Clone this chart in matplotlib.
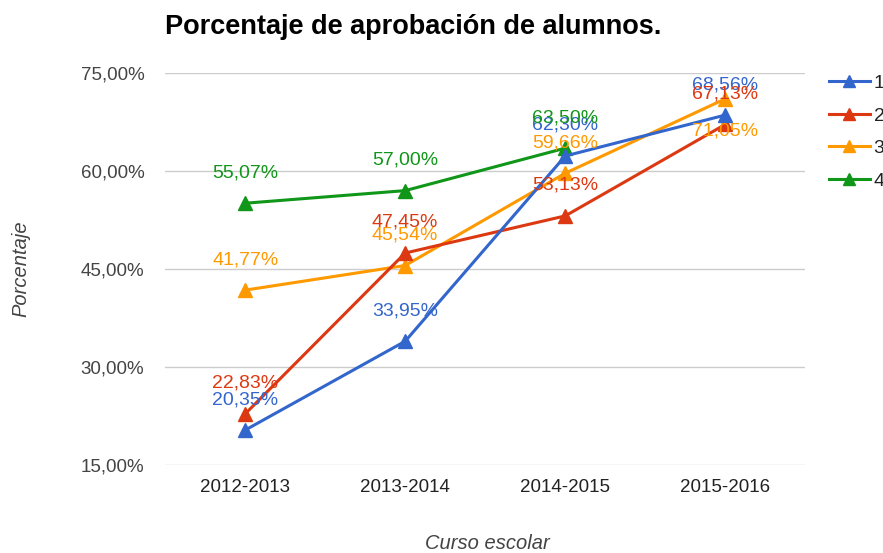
import matplotlib.pyplot as plt
import numpy as np

plt.rcParams['font.family'] = ['Liberation Sans', 'DejaVu Sans']

cursos = ["2012-2013", "2013-2014", "2014-2015", "2015-2016"]
serie1 = [20.35, 33.95, 62.30, 68.56]
serie2 = [22.83, 47.45, 53.13, 67.13]
serie3 = [41.77, 45.54, 59.66, 71.05]
serie4 = [55.07, 57.00, 63.50]
nombres = ["1", "2", "3", "4"]
yticks = [15, 30, 45, 60, 75]

colores = ["#3366cc", "#dc3912", "#ff9900", "#109618"]


def fmt(v):
    return ("%.2f%%" % v).replace(".", ",")


fig = plt.figure(figsize=(8.83, 5.53), dpi=100)
ax = fig.add_axes([0.187, 0.159, 0.725, 0.709])

x = np.arange(len(cursos))
series = [serie1, serie2, serie3, serie4]
handles = []
for i, (s, c) in enumerate(zip(series, colores)):
    xs = x[:len(s)]
    h, = ax.plot(xs, s, color=c, lw=2.2, marker="^", ms=10, zorder=3 + (3 - i) * 0.1)
    handles.append(h)
    for j, v in enumerate(s):
        dy = 22
        # el último punto de la serie 3 lleva la etiqueta debajo
        if i == 2 and j == 3:
            dy = -23
        ax.annotate(fmt(v), (xs[j], v), xytext=(0, dy), textcoords="offset points",
                    ha="center", va="center", color=c, fontsize=14, zorder=5 + i * 0.1)

ax.set_xlim(-0.5, 3.5)
ax.set_ylim(15, 75)
ax.set_yticks(yticks)
ax.set_yticklabels([fmt(t) for t in yticks])
ax.set_xticks(x)
ax.set_xticklabels(cursos)
ax.tick_params(length=0, labelsize=13.5, colors="#444444", pad=15)
ax.tick_params(axis="x", pad=10, colors="#222222")
ax.grid(axis="y", color="#cccccc", lw=1)
ax.set_axisbelow(True)
for sp in ax.spines.values():
    sp.set_visible(False)

fig.text(0.187, 0.952, "Porcentaje de aprobación de alumnos.", fontsize=19.5, fontweight="bold",
         ha="left", va="center", color="#000000")
fig.text(0.024, 0.515, "Porcentaje", rotation=90, style="italic", fontsize=14.5,
         color="#444444", ha="center", va="center")
fig.text(0.552, 0.018, "Curso escolar", style="italic", fontsize=14.5,
         color="#444444", ha="center", va="center")

leg = fig.legend(handles, nombres, loc="upper left", bbox_to_anchor=(0.93, 0.88),
                 frameon=False, fontsize=14, handlelength=2.1, labelspacing=0.78,
                 handletextpad=0.2, borderaxespad=0, labelcolor="#222222",
                 markerscale=0.9)

fig.savefig("out.png", dpi=100)
